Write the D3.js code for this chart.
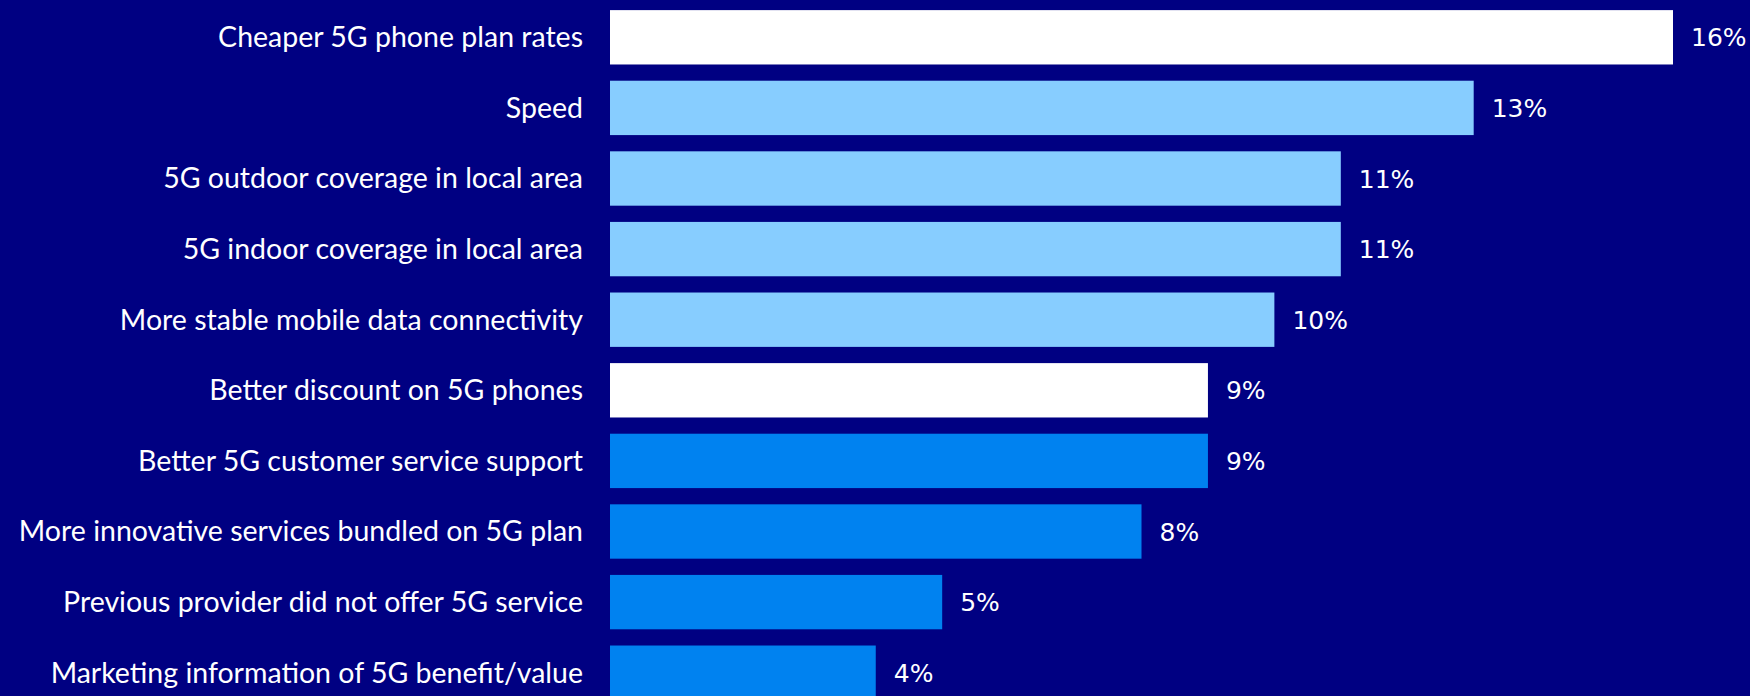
<!DOCTYPE html>
<html>
<head>
<meta charset="utf-8">
<script src="https://cdn.jsdelivr.net/npm/d3@7"></script>
<style>
  html, body { margin: 0; padding: 0; background: #000082; }
  #svg-container { width: 1750px; height: 696px; overflow: hidden; }
</style>
</head>
<body>
<div id="svg-container"></div>
<script>
// data
const categories = [
  "Cheaper 5G phone plan rates",
  "Speed",
  "5G outdoor coverage in local area",
  "5G indoor coverage in local area",
  "More stable mobile data connectivity",
  "Better discount on 5G phones",
  "Better 5G customer service support",
  "More innovative services bundled on 5G plan",
  "Previous provider did not offer 5G service",
  "Marketing information of 5G benefit/value"
];
const values = [16, 13, 11, 11, 10, 9, 9, 8, 5, 4];
const groups = ["price", "network", "network", "network", "network", "price", "service", "service", "service", "service"];

const width = 1750, height = 696;
const svg = d3.select("#svg-container").append("svg")
  .attr("width", width).attr("height", height);

svg.append("rect").attr("width", width).attr("height", height).attr("fill", "#000082");

const color = d3.scaleOrdinal()
  .domain(["price", "network", "service"])
  .range(["#ffffff", "#87cdff", "#0082f0"]);

const xScale = d3.scaleLinear().domain([0, 16]).range([610, 1673]);
const yScale = d3.scaleBand().domain(categories).range([2, 708])
  .paddingInner(0.23).paddingOuter(0.115);

const rows = svg.selectAll("g.row")
  .data(categories.map((c, i) => ({ cat: c, value: values[i], group: groups[i] })))
  .join("g").attr("class", "row");

rows.append("rect")
  .attr("x", xScale(0))
  .attr("y", d => yScale(d.cat))
  .attr("width", d => xScale(d.value) - xScale(0))
  .attr("height", yScale.bandwidth())
  .attr("fill", d => color(d.group));

// category labels
rows.append("text")
  .attr("x", xScale(0) - 27)
  .attr("y", d => yScale(d.cat) + yScale.bandwidth() / 2)
  .attr("dy", "0.35em")
  .attr("text-anchor", "end")
  .attr("fill", "#ffffff")
  .style("font-family", "Lato, 'Noto Sans', sans-serif")
  .style("font-size", "28.5px")
  .text(d => d.cat);

// value labels
rows.append("text")
  .attr("x", d => xScale(d.value) + 18)
  .attr("y", d => yScale(d.cat) + yScale.bandwidth() / 2)
  .attr("dy", "0.36em")
  .attr("fill", "#ffffff")
  .style("font-family", "'DejaVu Sans', sans-serif")
  .style("font-size", "25px")
  .text(d => d.value + "%");
</script>
</body>
</html>
